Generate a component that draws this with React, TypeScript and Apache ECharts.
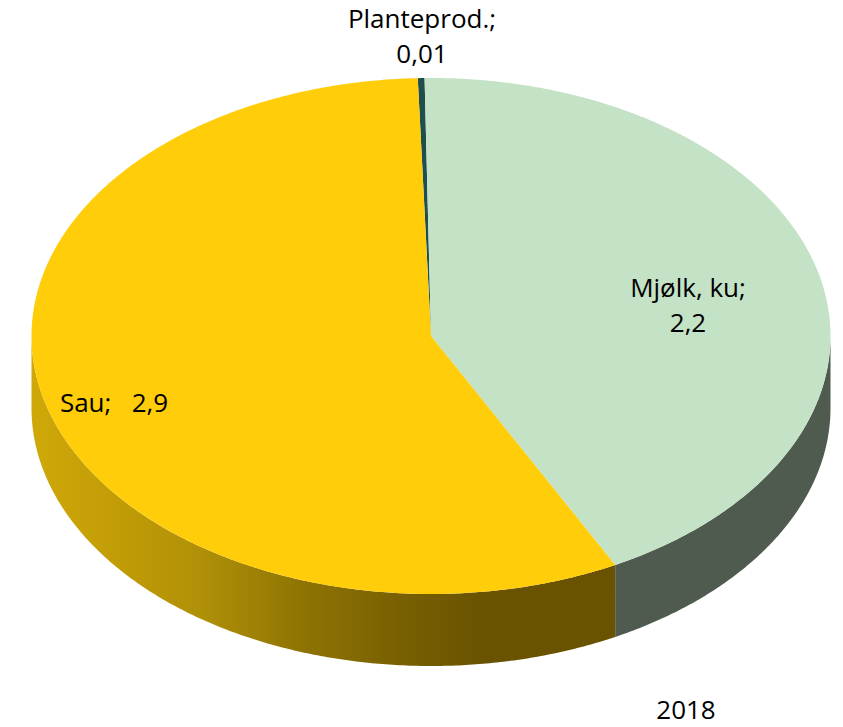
import React, { useEffect, useRef } from "react";
import * as echarts from "echarts";

const categories = ["Planteprod.", "Mjølk, ku", "Sau"];
const values = [0.014, 2.195, 2.94];
const decimals = [2, 1, 1];
const separators = ["\n", "\n", "   "];
const topColors = ["#1F4F4C", "#C3E2C6", "#FFCD09"];
const year = "2018";

const CX = 431;
const CY = 336;
const RX = 399.5;
const RY = 258;
const DEPTH = 72;
const START_DEG = -1.9;
const labelAnchors = [
  [422, 35],
  [688, 304],
  [114, 402],
];

const total = values.reduce((a, b) => a + b, 0);
const rad = (d: number) => (d * Math.PI) / 180;
const pt = (deg: number, dy = 0) => [
  CX + RX * Math.sin(rad(deg)),
  CY + dy - RY * Math.cos(rad(deg)),
];
const arc = (from: number, to: number, dy = 0) => {
  const n = Math.max(2, Math.ceil(Math.abs(to - from) * 2));
  const out: number[][] = [];
  for (let i = 0; i <= n; i++) out.push(pt(from + ((to - from) * i) / n, dy));
  return out;
};

const sideFill = (i: number) =>
  i === 2
    ? new echarts.graphic.LinearGradient(
        32,
        0,
        617,
        0,
        [
          { offset: 0, color: "#CFA808" },
          { offset: 0.15, color: "#C19C06" },
          { offset: 0.29, color: "#B09008" },
          { offset: 0.46, color: "#8F7403" },
          { offset: 0.63, color: "#786002" },
          { offset: 0.77, color: "#6A5300" },
          { offset: 1, color: "#6A5300" },
        ],
        true
      )
    : "#505B4F";

function renderItem(params: any) {
  const i = params.dataIndex;
  const before = values.slice(0, i).reduce((a, b) => a + b, 0);
  const a0 = START_DEG + (before / total) * 360;
  const a1 = a0 + (values[i] / total) * 360;
  const children: any[] = [];
  // visible wall: the part of the rim between 90 and 270 degrees
  const s0 = Math.max(a0, 90);
  const s1 = Math.min(a1, 270);
  if (s1 > s0) {
    children.push({
      type: "polygon",
      shape: { points: [...arc(s0, s1), ...arc(s1, s0, DEPTH)] },
      style: { fill: sideFill(i) },
    });
  }
  children.push({
    type: "polygon",
    shape: { points: [[CX, CY], ...arc(a0, a1)] },
    style: { fill: topColors[i] },
  });
  return { type: "group", children };
}

const labelText = (i: number) =>
  `${categories[i]};${separators[i]}${values[i].toFixed(decimals[i]).replace(".", ",")}`;

export default function App() {
  const ref = useRef<HTMLDivElement>(null);
  useEffect(() => {
    const chart = echarts.init(ref.current!, undefined, { renderer: "svg" });
    const textStyle = {
      fill: "#000",
      font: '26px "Open Sans"',
      textAlign: "center",
      textVerticalAlign: "middle",
      lineHeight: 35,
    };
    chart.setOption({
      animation: false,
      backgroundColor: "#fff",
      series: [
        {
          type: "custom",
          coordinateSystem: "none",
          renderItem,
          data: values.map((v, i) => ({ name: categories[i], value: v })),
          silent: true,
        },
      ],
      graphic: [
        ...categories.map((_, i) => ({
          type: "text",
          x: labelAnchors[i][0],
          y: labelAnchors[i][1],
          z: 10,
          style: { ...textStyle, text: labelText(i) },
        })),
        {
          type: "text",
          x: 686,
          y: 709,
          z: 10,
          style: { ...textStyle, lineHeight: 28, text: year },
        },
      ],
    });
    return () => chart.dispose();
  }, []);
  return (
    <div
      ref={ref}
      style={{ position: "absolute", left: 0, top: 0, width: 843, height: 727 }}
    />
  );
}
